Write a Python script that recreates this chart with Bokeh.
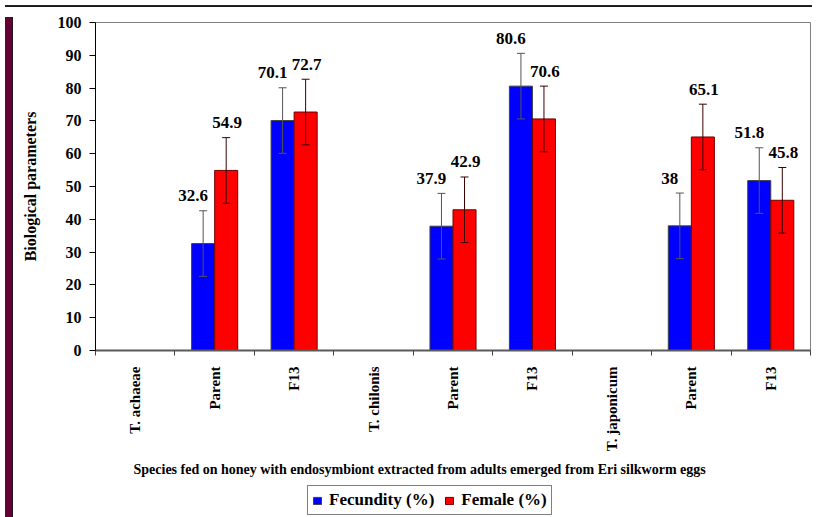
from bokeh.plotting import figure
from bokeh.models import (ColumnDataSource, Range1d, FixedTicker, Whisker, TeeHead,
                          Title, Div, Legend, LegendItem)
from bokeh.transform import dodge
from bokeh.layouts import row, column
from bokeh.core.properties import value
from bokeh.embed import file_html
from bokeh.resources import INLINE

categories = ["T. achaeae", "Parent", "F13", "T. chilonis", "Parent", "F13",
              "T. japonicum", "Parent", "F13"]
fecundity = [None, 32.6, 70.1, None, 37.9, 80.6, None, 38, 51.8]
female = [None, 54.9, 72.7, None, 42.9, 70.6, None, 65.1, 45.8]
fecundity_err = [None, 10, 10, None, 10, 10, None, 10, 10]
female_err = [None, 10, 10, None, 10, 10, None, 10, 10]
y_ticks = [0, 10, 20, 30, 40, 50, 60, 70, 80, 90, 100]
x_title = "Species fed on honey with endosymbiont extracted from adults emerged from Eri silkworm eggs"
y_title = "Biological parameters"
series_names = ["Fecundity (%)", "Female (%)"]
series_fill = ["#0000FF", "#FF0000"]
series_line = ["#404040", "#700000"]

FONT = "Liberation Serif"
BAR_W = 0.29
MAROON = "#650035"


def make_source(vals, errs):
    xs, vs, up, lo, lab = [], [], [], [], []
    for i, (v, e) in enumerate(zip(vals, errs)):
        if v is None:
            continue
        xs.append(i + 0.5)
        vs.append(v)
        up.append(v + e)
        lo.append(v - e)
        lab.append(f"{v:g}")
    return ColumnDataSource(dict(x=xs, v=vs, upper=up, lower=lo, label=lab))


src_f = make_source(fecundity, fecundity_err)
src_m = make_source(female, female_err)

p = figure(width=799, height=469, output_backend="svg", toolbar_location=None,
           x_range=Range1d(0, len(categories)), y_range=Range1d(0, 100),
           min_border_left=76, min_border_right=7, min_border_top=10, min_border_bottom=131)
p.grid.visible = False
p.outline_line_color = "#808080"
p.outline_line_width = 1
p.background_fill_color = "white"
p.border_fill_color = "white"

p.vbar(x=dodge("x", -BAR_W / 2), top="v", bottom=0, width=BAR_W, source=src_f,
       fill_color=series_fill[0], line_color=series_line[0], line_width=1)
p.vbar(x=dodge("x", BAR_W / 2), top="v", bottom=0, width=BAR_W, source=src_m,
       fill_color=series_fill[1], line_color=series_line[1], line_width=1)

for src, off, col in [(src_f, -BAR_W / 2, "#555555"), (src_m, BAR_W / 2, "#3a0000")]:
    w = Whisker(base=dodge("x", off), upper="upper", lower="lower", source=src,
                line_color=col, line_width=1, level="annotation",
                upper_head=TeeHead(size=8, line_color=col, line_width=1),
                lower_head=TeeHead(size=8, line_color=col, line_width=1))
    p.add_layout(w)

for src, off, xo in [(src_f, -BAR_W / 2, -10), (src_m, BAR_W / 2, 1)]:
    p.text(x=dodge("x", off), y="upper", text="label", source=src,
           text_font=value(FONT), text_font_size="17px", text_font_style="bold",
           text_color="black", text_align="center", text_baseline="middle",
           x_offset=xo, y_offset=-15)

# x axis
xa = p.xaxis[0]
centers = [i + 0.5 for i in range(len(categories))]
xa.ticker = FixedTicker(ticks=centers, minor_ticks=list(range(len(categories) + 1)))
xa.major_label_overrides = {c: lab for c, lab in zip(centers, categories)}
xa.major_label_orientation = 3.14159265 / 2
xa.major_tick_line_color = None
xa.major_tick_out = 0
xa.major_tick_in = 0
xa.minor_tick_line_color = "#404040"
xa.minor_tick_out = 5
xa.minor_tick_in = 0
xa.major_label_standoff = 11
xa.major_label_text_font = FONT
xa.major_label_text_font_style = "bold"
xa.major_label_text_font_size = "15px"
xa.major_label_text_color = "black"
xa.axis_line_color = "#5a5a5a"
xa.axis_line_width = 2

# y axis
ya = p.yaxis[0]
ya.ticker = FixedTicker(ticks=y_ticks)
ya.minor_tick_line_color = None
ya.major_tick_out = 6
ya.major_tick_in = 0
ya.major_tick_line_color = "black"
ya.axis_line_color = "black"
ya.major_label_standoff = 8
ya.major_label_text_font = FONT
ya.major_label_text_font_style = "bold"
ya.major_label_text_font_size = "16px"
ya.major_label_text_color = "black"
ya.axis_label = y_title
ya.axis_label_text_font = FONT
ya.axis_label_text_font_style = "bold"
ya.axis_label_text_font_size = "16px"
ya.axis_label_text_color = "black"
ya.axis_label_standoff = 16

t = Title(text=x_title, align="left", offset=38, standoff=10,
          text_font=FONT, text_font_style="bold", text_font_size="14px", text_color="black")
p.add_layout(t, "below")

# legend strip (separate small figure below the chart, frame aligned with the chart)
pl = figure(width=799, height=37, output_backend="svg", toolbar_location=None,
            x_range=Range1d(100, 101), y_range=Range1d(0, 1),
            min_border_left=0, min_border_right=0, min_border_top=0, min_border_bottom=0)
pl.axis.visible = False
pl.grid.visible = False
pl.outline_line_color = None
rl_f = pl.vbar(x=dodge("x", -BAR_W / 2), top="v", bottom=0, width=BAR_W, source=src_f,
               fill_color=series_fill[0], line_color=series_line[0], visible=False)
rl_m = pl.vbar(x=dodge("x", BAR_W / 2), top="v", bottom=0, width=BAR_W, source=src_m,
               fill_color=series_fill[1], line_color=series_line[1], visible=False)
legend = Legend(items=[LegendItem(label=series_names[0], renderers=[rl_f]),
                       LegendItem(label=series_names[1], renderers=[rl_m])],
                orientation="horizontal", location=(212, 3))
legend.inactive_fill_alpha = 0
legend.border_line_color = "black"
legend.border_line_width = 1
legend.background_fill_color = "white"
legend.background_fill_alpha = 1
legend.padding = 4
legend.spacing = 10
legend.margin = 0
legend.label_standoff = 7
legend.glyph_width = 10
legend.glyph_height = 9
legend.label_height = 16
legend.label_text_font = FONT
legend.label_text_font_style = "bold"
legend.label_text_font_size = "17px"
legend.label_text_color = "black"
pl.add_layout(legend, "center")

topbar = Div(width=807, height=2, styles={"background-color": MAROON,
                                          "border-bottom": "1px solid #1a1a1a",
                                          "box-sizing": "border-box"})
band = Div(width=8, height=506, styles={"background-color": MAROON,
                                        "border-right": "1px solid #1a1a1a",
                                        "box-sizing": "border-box"})
layout = column(topbar, row(band, column(p, pl)))

open("out.html", "w").write(file_html(layout, INLINE))
